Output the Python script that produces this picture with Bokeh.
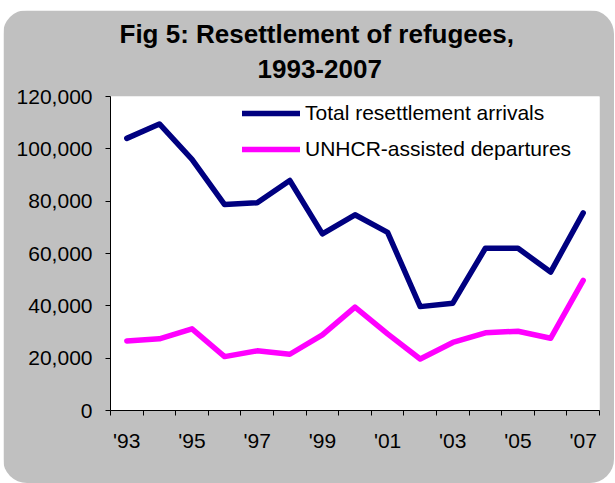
from bokeh.plotting import figure
from bokeh.models import (Range1d, FixedTicker, NumeralTickFormatter, Title,
                          Legend, LegendItem)
from bokeh.embed import file_html
from bokeh.resources import INLINE

# ---- data -------------------------------------------------------------
years = [1993, 1994, 1995, 1996, 1997, 1998, 1999, 2000,
         2001, 2002, 2003, 2004, 2005, 2006, 2007]
total_arrivals = [104000, 109500, 96000, 78700, 79400, 87900, 67500, 74800,
                  68100, 39700, 41000, 62000, 62000, 52900, 75500]
unhcr_departures = [26600, 27400, 31200, 20600, 22800, 21500, 28900, 39500,
                    29300, 19700, 26000, 29700, 30300, 27600, 49700]
tick_years = [1993, 1995, 1997, 1999, 2001, 2003, 2005, 2007]
tick_labels = ["'93", "'95", "'97", "'99", "'01", "'03", "'05", "'07"]
y_ticks = [0, 20000, 40000, 60000, 80000, 100000, 120000]
series_names = ["Total resettlement arrivals", "UNHCR-assisted departures"]
title_lines = ["Fig 5: Resettlement of refugees,", "1993-2007"]

FONT = "Liberation Sans"

p = figure(width=611, height=473, output_backend="svg", toolbar_location=None,
           title=None,
           x_range=Range1d(years[0] - 0.5, years[-1] + 0.5),
           y_range=Range1d(y_ticks[0], y_ticks[-1]),
           min_border_left=107, min_border_right=15,
           min_border_top=86, min_border_bottom=73)

p.styles = {"border-radius": "24px", "overflow": "hidden",
            "position": "absolute", "left": "3px", "top": "10px"}

p.background_fill_color = "white"
p.border_fill_color = "#C0C0C0"
p.outline_line_color = None
p.xgrid.visible = False
p.ygrid.visible = False

# x axis: labels at odd years, tick marks between categories
p.xaxis.ticker = FixedTicker(ticks=tick_years,
                             minor_ticks=[y - 0.5 for y in years] + [years[-1] + 0.5])
p.xaxis.major_label_overrides = {y: l for y, l in zip(tick_years, tick_labels)}
p.xaxis.major_tick_out = 0
p.xaxis.major_tick_in = 0
p.xaxis.minor_tick_out = 5
p.xaxis.minor_tick_in = 0
p.xaxis.minor_tick_line_color = "black"
p.xaxis.major_label_standoff = 13

p.yaxis.ticker = FixedTicker(ticks=y_ticks)
p.yaxis.formatter = NumeralTickFormatter(format="0,0")
p.yaxis.major_tick_out = 5
p.yaxis.major_tick_in = 0
p.yaxis.minor_tick_line_color = None
p.yaxis.major_label_standoff = 13

for ax in (p.xaxis, p.yaxis):
    ax.axis_line_color = "black"
    ax.major_tick_line_color = "black"
    ax.major_label_text_font = FONT
    ax.major_label_text_font_size = "21px"
    ax.major_label_text_color = "black"

r1 = p.line(years, total_arrivals, line_color="#000080", line_width=5.5,
            line_join="round", line_cap="round")
r2 = p.line(years, unhcr_departures, line_color="#FF00FF", line_width=5.5,
            line_join="round", line_cap="round")

legend = Legend(items=[LegendItem(label=series_names[0], renderers=[r1]),
                       LegendItem(label=series_names[1], renderers=[r2])],
                location=(132, 249), orientation="vertical",
                background_fill_alpha=0, border_line_color=None,
                padding=0, margin=0, spacing=12,
                glyph_height=20, glyph_width=58, label_height=20,
                label_standoff=5, label_text_font=FONT,
                label_text_font_size="21px", label_text_color="black")
p.add_layout(legend, "center")

# title: two lines, second line closest to the plot
p.add_layout(Title(text=title_lines[1], align="left", offset=147,
                   text_font=FONT, text_font_size="26px",
                   text_font_style="bold", text_color="black",
                   standoff=38), "above")
p.add_layout(Title(text=title_lines[0], align="left", offset=9,
                   text_font=FONT, text_font_size="26px",
                   text_font_style="bold", text_color="black",
                   standoff=-21), "above")

open("out.html", "w").write(file_html(p, INLINE))
